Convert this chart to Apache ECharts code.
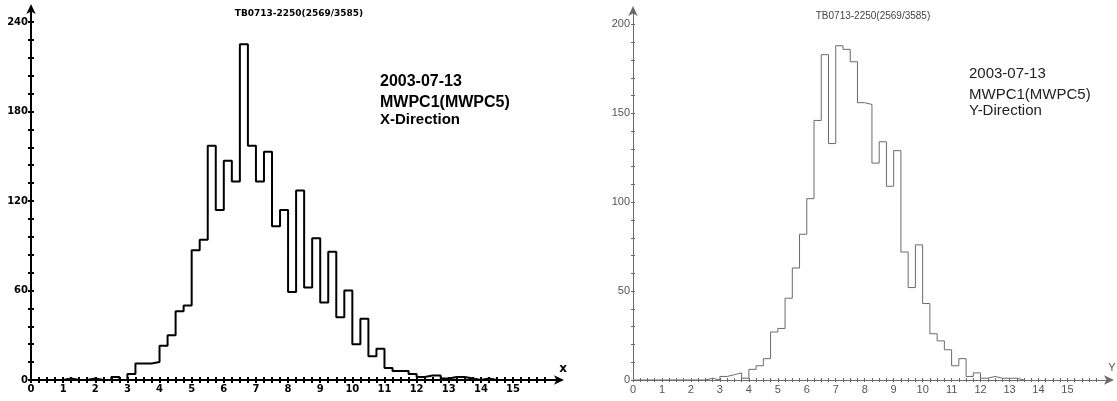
<!DOCTYPE html>
<html>
<head>
<meta charset="utf-8">
<script src="https://cdn.jsdelivr.net/npm/echarts@6/dist/echarts.min.js"></script>
<style>
html,body{margin:0;padding:0;background:#fff;}
#c{width:1117px;height:401px;}
</style>
</head>
<body>
<div id="c"></div>
<script>
// ---- data ----
const binWidth = 0.25; // histogram bins start at 0
const leftCounts = [
  0,0,0,0, 1,0,0,1, 0,0,2,0,
  4,11,11,12, 23,30,46,50, 87,94,157,114,
  147,133,225,157, 133,153,103,114, 59,127,62,95,
  52,86,42,60, 24,41,16,21, 8,6,6,4,
  2,3,3,1, 2,2,1,0, 1,0
];
const rightCounts = [
  0,0,0,0, 0,0,0,0, 0,0,1,0,
  2,3,4,1, 6,8,12,27, 29,46,63,82,
  102,146,183,133, 188,186,179,156, 155,122,134,109,
  129,72,52,76, 43,26,22,17, 8,12,2,4,
  1,2,1,1, 1,0
];
const leftYLabels = [0, 60, 120, 180, 240];
const leftYMinorStep = 12;
const rightYLabels = [0, 50, 100, 150, 200];
const rightYMinorStep = 10;
const xLabels = [0,1,2,3,4,5,6,7,8,9,10,11,12,13,14,15];
const xMinorStep = 0.25;
const titleText = 'TB0713-2250(2569/3585)';
const leftNote = ['2003-07-13', 'MWPC1(MWPC5)', 'X-Direction'];
const rightNote = ['2003-07-13', 'MWPC1(MWPC5)', 'Y-Direction'];

// ---- helpers ----
function steps(counts) {
  const pts = counts.map((c, i) => [i * binWidth, c]);
  pts.push([counts.length * binWidth, 0]);
  return pts;
}
function ticks(max, step) {
  const out = [];
  for (let v = 0; v <= max + 1e-9; v += step) out.push(+v.toFixed(4));
  return out;
}
const xTicks = ticks(16, xMinorStep);
const leftYTicks = ticks(240, leftYMinorStep);
const rightYTicks = ticks(200, rightYMinorStep);

const L = { color: '#000', width: 2, font: 'DejaVu Sans', xmax: 16.4, ymax: 248, tick: 3 };
const R = { color: '#6a6a6a', width: 1, font: 'Liberation Sans', xmax: 16.4, ymax: 207, tick: 2 };

function xAxes(g, S, grid) {
  return [
    {
      type: 'value', gridIndex: grid, min: 0, max: S.xmax, position: 'bottom',
      axisLine: { show: true, onZero: false, lineStyle: { color: S.color, width: S.width }, symbol: ['none', 'arrow'], symbolSize: [7, 10], symbolOffset: [0, 6] },
      axisTick: { show: true, customValues: xTicks, length: S.tick, lineStyle: { color: S.color, width: S.width } },
      axisLabel: { show: true, customValues: xLabels, margin: 4, fontSize: g === 'L' ? 10 : 11,
        fontWeight: g === 'L' ? 'bold' : 'normal', fontFamily: S.font, color: g === 'L' ? '#000' : '#555' },
      splitLine: { show: false }
    },
    {
      type: 'value', gridIndex: grid, min: 0, max: S.xmax, position: 'bottom',
      axisLine: { show: false },
      axisTick: { show: true, inside: true, customValues: xTicks, length: S.tick, lineStyle: { color: S.color, width: S.width } },
      axisLabel: { show: false }, splitLine: { show: false }
    }
  ];
}
function yAxes(g, S, grid, labels, tks) {
  return [
    {
      type: 'value', gridIndex: grid, min: 0, max: S.ymax, position: 'left',
      axisLine: { show: true, onZero: false, lineStyle: { color: S.color, width: S.width }, symbol: ['none', 'arrow'], symbolSize: [7, 10], symbolOffset: [0, 6] },
      axisTick: { show: true, customValues: tks, length: S.tick, lineStyle: { color: S.color, width: S.width } },
      axisLabel: { show: true, customValues: labels, margin: 3, fontSize: g === 'L' ? 10 : 11,
        fontWeight: g === 'L' ? 'bold' : 'normal', fontFamily: S.font, color: g === 'L' ? '#000' : '#555' },
      splitLine: { show: false }
    },
    {
      type: 'value', gridIndex: grid, min: 0, max: S.ymax, position: 'left',
      axisLine: { show: false },
      axisTick: { show: true, inside: true, customValues: tks, length: S.tick, lineStyle: { color: S.color, width: S.width } },
      axisLabel: { show: false }, splitLine: { show: false }
    }
  ];
}

const chart = echarts.init(document.getElementById('c'), null, { renderer: 'canvas' });

chart.setOption({
  animation: false,
  backgroundColor: '#fff',
  grid: [
    { left: 31, top: 10, width: 527, height: 370, outerBoundsMode: 'none' },
    { left: 633, top: 12, width: 475, height: 368, outerBoundsMode: 'none' }
  ],
  xAxis: [...xAxes('L', L, 0), ...xAxes('R', R, 1)],
  yAxis: [...yAxes('L', L, 0, leftYLabels, leftYTicks), ...yAxes('R', R, 1, rightYLabels, rightYTicks)],
  series: [
    { type: 'line', xAxisIndex: 0, yAxisIndex: 0, step: 'end', showSymbol: false, data: steps(leftCounts),
      lineStyle: { color: '#000', width: 2 }, silent: true },
    { type: 'line', xAxisIndex: 2, yAxisIndex: 2, step: 'end', showSymbol: false, data: steps(rightCounts),
      lineStyle: { color: '#6a6a6a', width: 1 }, silent: true }
  ],
  graphic: [
    { type: 'text', x: 299, y: 14, style: { text: titleText, fill: '#000', font: 'bold 9px "DejaVu Sans"', align: 'center', verticalAlign: 'middle' } },
    { type: 'text', x: 873, y: 16, style: { text: titleText, fill: '#444', font: '10px "Liberation Sans"', align: 'center', verticalAlign: 'middle' } },
    ...leftNote.map((t, i) => ({ type: 'text', x: 380, y: [82, 103, 120][i],
      style: { text: t, fill: '#000', font: 'bold ' + (i < 2 ? 16 : 15) + 'px "Liberation Sans"', verticalAlign: 'middle' } })),
    ...rightNote.map((t, i) => ({ type: 'text', x: 969, y: [74, 95, 111][i],
      style: { text: t, fill: '#222', font: '15px "Liberation Sans"', verticalAlign: 'middle' } })),
    { type: 'text', x: 563, y: 369, style: { text: 'x', fill: '#000', font: 'bold 12px "DejaVu Sans"', align: 'center', verticalAlign: 'middle' } },
    { type: 'text', x: 1112, y: 368, style: { text: 'Y', fill: '#555', font: '11px "Liberation Sans"', align: 'center', verticalAlign: 'middle' } }
  ]
});
</script>
</body>
</html>
